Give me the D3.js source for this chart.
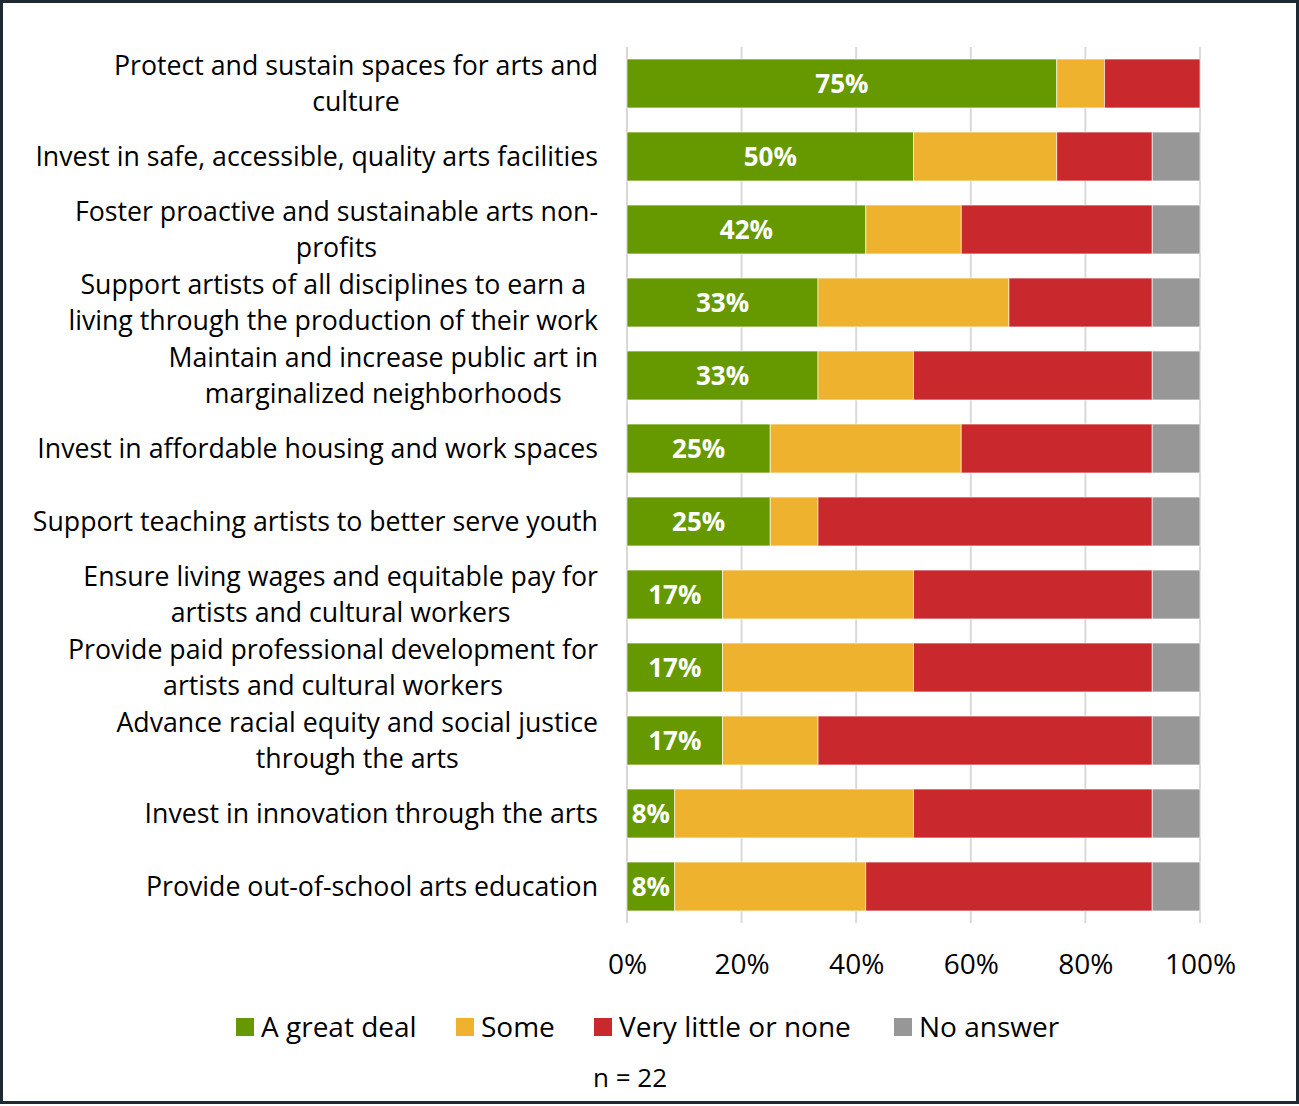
<!DOCTYPE html>
<html>
<head>
<meta charset="utf-8">
<script src="https://cdn.jsdelivr.net/npm/d3@7"></script>
<style>
  html, body { margin: 0; padding: 0; background: #fff; }
  svg { display: block; font-family: "Open Sans", sans-serif; }
</style>
</head>
<body>
<svg id="chart" width="1299" height="1106"></svg>
<script>
// Survey priorities: share of respondents per answer (percent)
const categories = [
  ["Protect and sustain spaces for arts and", "culture"],
  ["Invest in safe, accessible, quality arts facilities"],
  ["Foster proactive and sustainable arts non-", "profits"],
  ["Support artists of all disciplines to earn a", "living through the production of their work"],
  ["Maintain and increase public art in", "marginalized neighborhoods"],
  ["Invest in affordable housing and work spaces"],
  ["Support teaching artists to better serve youth"],
  ["Ensure living wages and equitable pay for", "artists and cultural workers"],
  ["Provide paid professional development for", "artists and cultural workers"],
  ["Advance racial equity and social justice", "through the arts"],
  ["Invest in innovation through the arts"],
  ["Provide out-of-school arts education"]
];
const seriesNames = ["A great deal", "Some", "Very little or none", "No answer"];
const greatDeal  = [75, 50, 41.67, 33.33, 33.33, 25, 25, 16.67, 16.67, 16.67, 8.33, 8.33];
const some       = [8.33, 25, 16.67, 33.33, 16.67, 33.33, 8.33, 33.33, 33.33, 16.67, 41.67, 33.33];
const veryLittle = [16.67, 16.67, 33.33, 25, 41.67, 33.33, 58.33, 41.67, 41.67, 58.33, 41.67, 50];
const noAnswer   = [0, 8.33, 8.33, 8.33, 8.33, 8.33, 8.33, 8.33, 8.33, 8.33, 8.33, 8.33];
const tickValues = [0, 20, 40, 60, 80, 100];
const colors = ["#669900", "#EEB22F", "#C9282D", "#979797"];
const footnote = "n = 22";

const svg = d3.select("#chart");
const W = 1299, H = 1106;

// outer frame
svg.append("rect")
  .attr("x", 1.5).attr("y", 1.5)
  .attr("width", W - 3).attr("height", H - 5)
  .attr("fill", "#fff").attr("stroke", "#1e2932").attr("stroke-width", 3);

const rows = categories.map((c, i) => ({
  key: i, label: c,
  "A great deal": greatDeal[i],
  "Some": some[i],
  "Very little or none": veryLittle[i],
  "No answer": noAnswer[i]
}));

const x = d3.scaleLinear().domain([0, 100]).range([627, 1200]);
const y = d3.scaleBand().domain(rows.map(d => d.key)).range([47, 923])
  .paddingInner(0.33).paddingOuter(0.165);

// vertical gridlines
svg.append("g").selectAll("line").data(tickValues).join("line")
  .attr("x1", d => x(d)).attr("x2", d => x(d))
  .attr("y1", 47).attr("y2", 923)
  .attr("stroke", "#d9d9d9").attr("stroke-width", 2);

const stack = d3.stack().keys(seriesNames)(rows);

svg.append("g").selectAll("g").data(stack).join("g")
  .attr("fill", (d, i) => colors[i])
  .selectAll("rect").data(d => d).join("rect")
  .attr("x", d => x(d[0]))
  .attr("width", d => x(d[1]) - x(d[0]))
  .attr("y", d => y(d.data.key))
  .attr("height", y.bandwidth())
  .attr("stroke", "#ffffff").attr("stroke-opacity", 0.6).attr("stroke-width", 1)
  .filter(d => d[1] - d[0] <= 0).remove();

// value labels on the first series
svg.append("g").selectAll("text").data(stack[0]).join("text")
  .attr("x", d => (x(d[0]) + x(d[1])) / 2)
  .attr("y", d => y(d.data.key) + y.bandwidth() / 2)
  .attr("dy", "0.36em")
  .attr("text-anchor", "middle")
  .attr("fill", "#fff").attr("font-weight", 700).attr("font-size", 26)
  .text(d => Math.round(d[1] - d[0]) + "%");

// category labels: block right-aligned at the axis, lines centred within the block
const labelRight = 598;
const labG = svg.append("g").attr("font-size", 26.7).attr("fill", "#000");
rows.forEach(d => {
  const cy = y(d.key) + y.bandwidth() / 2;
  const n = d.label.length;
  const t = labG.append("text").attr("text-anchor", "middle");
  const spans = d.label.map((line, j) =>
    t.append("tspan").attr("y", cy + (j - (n - 1) / 2) * 36).attr("dy", "0.36em").text(line));
  const widest = d3.max(spans, s => s.node().getComputedTextLength());
  spans.forEach(s => s.attr("x", labelRight - widest / 2));
});

// x axis tick labels
const axis = svg.append("g").attr("transform", "translate(0,964)")
  .call(d3.axisBottom(x).tickValues(tickValues).tickFormat(d => d + "%").tickSize(0).tickPadding(0));
axis.select(".domain").remove();
axis.selectAll("text")
  .attr("font-family", "\"Open Sans\", sans-serif")
  .attr("font-size", 28).attr("fill", "#000")
  .attr("dy", "0.36em").attr("y", 0);

// legend
const legendX = [236, 456, 594, 894];
const leg = svg.append("g").selectAll("g").data(seriesNames).join("g")
  .attr("transform", (d, i) => `translate(${legendX[i]},1027)`);
leg.append("rect").attr("x", 0).attr("y", -9).attr("width", 18).attr("height", 18)
  .attr("fill", (d, i) => colors[i]);
leg.append("text").attr("x", 25).attr("dy", "0.36em")
  .attr("font-size", 28).attr("fill", "#000").text(d => d);

svg.append("text").attr("x", 630).attr("y", 1078).attr("dy", "0.36em")
  .attr("text-anchor", "middle").attr("font-size", 26).attr("fill", "#000")
  .text(footnote);
</script>
</body>
</html>
